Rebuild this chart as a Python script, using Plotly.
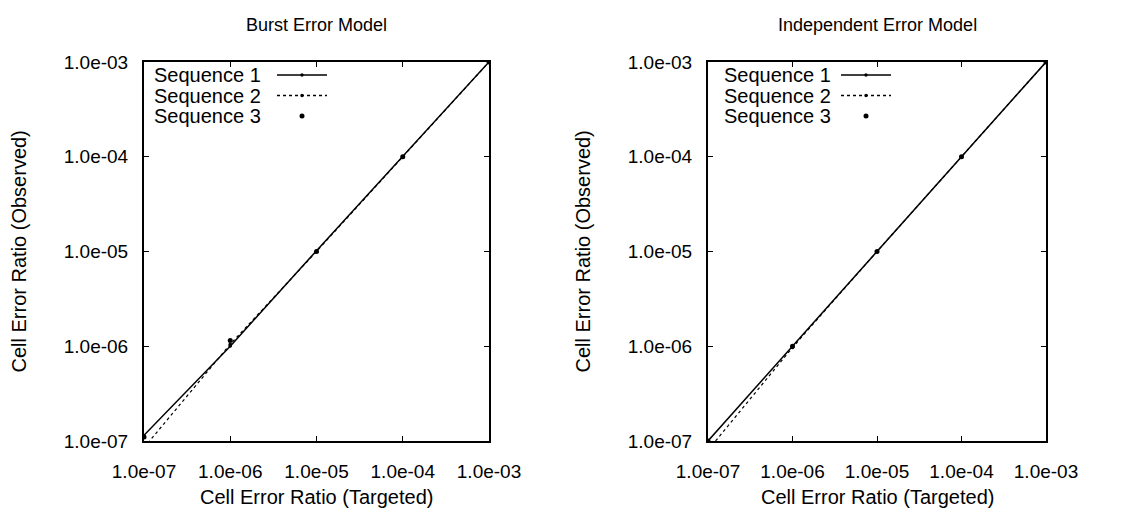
import plotly.graph_objects as go

# ---- data ----
targets = [1e-7, 1e-6, 1e-5, 1e-4, 1e-3]

burst_seq1 = [1.15e-7, 1.0e-6, 1.02e-5, 1.0e-4, 1.0e-3]
burst_seq2 = [0.85e-7, 1.05e-6, 1.0e-5, 1.0e-4, 1.0e-3]
burst_seq3 = [1.1e-7, 1.15e-6, 1.0e-5, 1.0e-4, 1.0e-3]

indep_seq1 = [1.0e-7, 1.0e-6, 1.0e-5, 1.0e-4, 1.0e-3]
indep_seq2 = [0.8e-7, 0.97e-6, 1.0e-5, 1.0e-4, 1.0e-3]
indep_seq3 = [1.0e-7, 1.0e-6, 1.0e-5, 1.0e-4, 1.0e-3]

tick_vals = [1e-7, 1e-6, 1e-5, 1e-4, 1e-3]
tick_text = ["1.0e-07", "1.0e-06", "1.0e-05", "1.0e-04", "1.0e-03"]

series_names = ["Sequence 1", "Sequence 2", "Sequence 3"]
panel_titles = ["Burst Error Model", "Independent Error Model"]
x_title = "Cell Error Ratio (Targeted)"
y_title = "Cell Error Ratio (Observed)"

FONT = "Liberation Sans, Arial, sans-serif"
BLACK = "#000000"
W, H = 1122, 512

fig = go.Figure()

panels = [
    ("x", "y", burst_seq1, burst_seq2, burst_seq3),
    ("x2", "y2", indep_seq1, indep_seq2, indep_seq3),
]
for xa, ya, s1, s2, s3 in panels:
    fig.add_trace(go.Scatter(x=targets, y=s1, xaxis=xa, yaxis=ya, mode="lines+markers",
                             line=dict(color=BLACK, width=1.5),
                             marker=dict(size=3, color=BLACK), showlegend=False))
    fig.add_trace(go.Scatter(x=targets, y=s2, xaxis=xa, yaxis=ya, mode="lines+markers",
                             line=dict(color=BLACK, width=1.2, dash="dot"),
                             marker=dict(size=3.5, color=BLACK), showlegend=False))
    fig.add_trace(go.Scatter(x=targets, y=s3, xaxis=xa, yaxis=ya, mode="markers",
                             marker=dict(size=5, color=BLACK), showlegend=False))

ydom = [1 - 441 / H, 1 - 62 / H]
xdoms = [[144 / W, 489 / W], [708 / W, 1046 / W]]
legend_text_offset = [8, 14]

axis_common = dict(type="log", range=[-7, -3], tickvals=tick_vals, ticktext=tick_text,
                   showline=True, linecolor=BLACK, linewidth=2, mirror="ticks",
                   ticks="inside", ticklen=5, tickcolor=BLACK, showgrid=False,
                   zeroline=False, automargin=False,
                   tickfont=dict(family=FONT, size=19, color=BLACK))

fig.update_layout(
    width=W, height=H,
    margin=dict(l=0, r=0, t=0, b=0),
    paper_bgcolor="white", plot_bgcolor="white",
    xaxis=dict(domain=xdoms[0], anchor="y", ticklabelstandoff=12, **axis_common),
    yaxis=dict(domain=ydom, anchor="x", ticklabelstandoff=10, **axis_common),
    xaxis2=dict(domain=xdoms[1], anchor="y2", ticklabelstandoff=12, **axis_common),
    yaxis2=dict(domain=ydom, anchor="x2", ticklabelstandoff=10, **axis_common),
    showlegend=False,
)

annotations = []
shapes = []
for i, dom in enumerate(xdoms):
    cx = (dom[0] + dom[1]) / 2
    annotations.append(dict(text=panel_titles[i], x=cx, y=1 - 25 / H, xref="paper", yref="paper",
                            xanchor="center", yanchor="middle",
                            showarrow=False, font=dict(family=FONT, size=18, color=BLACK)))
    annotations.append(dict(text=x_title, x=cx, y=1 - 497 / H, xref="paper", yref="paper",
                            xanchor="center", yanchor="middle",
                            showarrow=False, font=dict(family=FONT, size=20, color=BLACK)))
    annotations.append(dict(text=y_title, x=dom[0] - 126 / W, y=(ydom[0] + ydom[1]) / 2,
                            xref="paper", yref="paper", textangle=-90,
                            xanchor="center", yanchor="middle",
                            showarrow=False, font=dict(family=FONT, size=20, color=BLACK)))
    # gnuplot-style key: label, then line sample to its right
    for k, name in enumerate(series_names):
        ypos = 1 - (75 + k * 20.5) / H
        annotations.append(dict(text=name, x=dom[0] + legend_text_offset[i] / W, y=ypos,
                                xref="paper", yref="paper",
                                xanchor="left", yanchor="middle", showarrow=False,
                                font=dict(family=FONT, size=20, color=BLACK)))
        lx0 = dom[0] + 133 / W
        lx1 = dom[0] + 183 / W
        if k < 2:
            shapes.append(dict(type="line", xref="paper", yref="paper", x0=lx0, x1=lx1,
                               y0=ypos, y1=ypos,
                               line=dict(color=BLACK, width=1.3, dash="solid" if k == 0 else "dot")))
        r = 1.7 if k < 2 else 2.5
        mx = (lx0 + lx1) / 2
        shapes.append(dict(type="circle", xref="paper", yref="paper",
                           x0=mx - r / W, x1=mx + r / W,
                           y0=ypos - r / H, y1=ypos + r / H,
                           fillcolor=BLACK, line=dict(color=BLACK, width=0)))

fig.update_layout(annotations=annotations, shapes=shapes)
fig.write_html("out.html")
